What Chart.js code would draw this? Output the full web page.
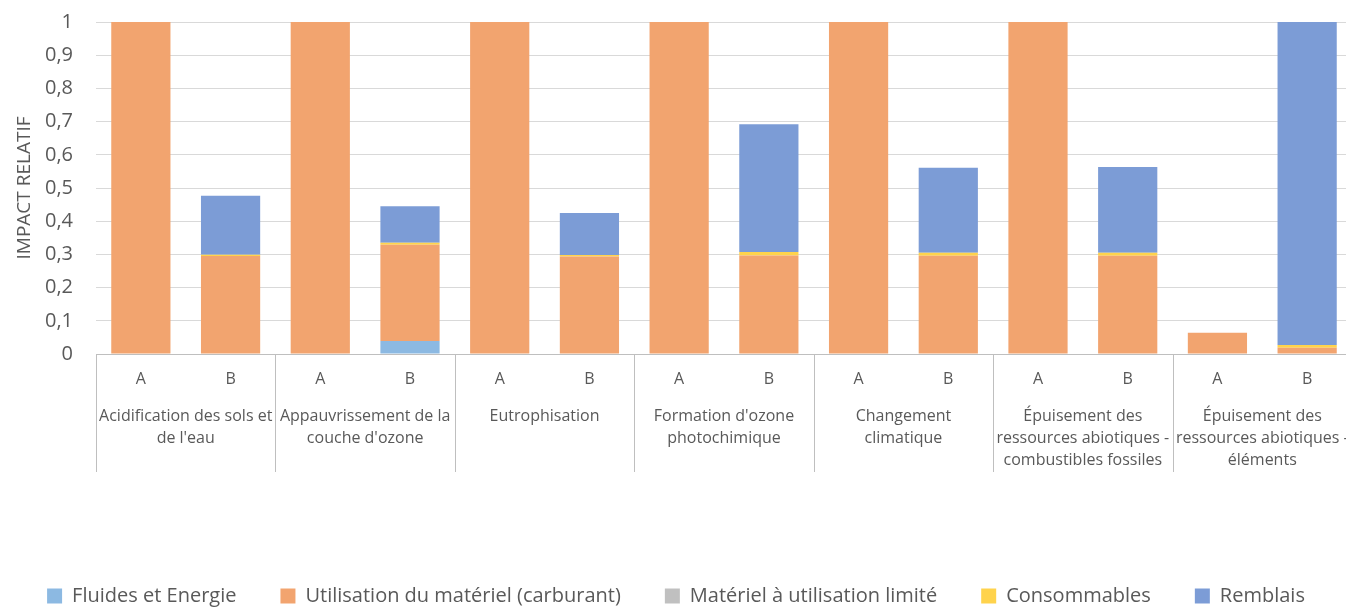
<!DOCTYPE html>
<html>
<head>
<meta charset="utf-8">
<script src="https://cdn.jsdelivr.net/npm/chart.js@4"></script>
<style>
  html, body { margin: 0; padding: 0; background: #fff; overflow: hidden; }
  #wrap { width: 1352px; height: 607px; }
</style>
</head>
<body>
<div id="wrap"><canvas id="myChart"></canvas></div>
<script>
// categories (multi-line labels as drawn under the bars)
var groups = [
  ["Acidification des sols et", "de l'eau"],
  ["Appauvrissement de la", "couche d'ozone"],
  ["Eutrophisation"],
  ["Formation d'ozone", "photochimique"],
  ["Changement", "climatique"],
  ["Épuisement des", "ressources abiotiques -", "combustibles fossiles"],
  ["Épuisement des", "ressources abiotiques -", "éléments"]
];
var scenarios = ["A", "B"];
var yTicks = [0, 0.1, 0.2, 0.3, 0.4, 0.5, 0.6, 0.7, 0.8, 0.9, 1];

// series, one value per bar (A, B for each group)
var fluides      = [0, 0,     0, 0.039, 0, 0,     0, 0,     0, 0,     0, 0,     0,     0];
var utilisation  = [1, 0.295, 1, 0.290, 1, 0.294, 1, 0.297, 1, 0.296, 1, 0.296, 0.064, 0.019];
var materiel     = [0, 0,     0, 0,     0, 0,     0, 0,     0, 0,     0, 0,     0,     0];
var consommables = [0, 0.004, 0, 0.006, 0, 0.004, 0, 0.010, 0, 0.009, 0, 0.009, 0,     0.008];
var remblais     = [0, 0.178, 0, 0.110, 0, 0.127, 0, 0.385, 0, 0.256, 0, 0.258, 0,     0.973];

var barLabels = [];
for (var i = 0; i < groups.length; i++) {
  for (var j = 0; j < scenarios.length; j++) barLabels.push(scenarios[j]);
}

var txt = '#595959';
var font = "'Open Sans', 'Liberation Sans', sans-serif";

// vertical separators between groups, under the axis
var groupLines = {
  id: 'groupLines',
  afterDraw: function(chart) {
    var x = chart.scales.x;
    var ctx = chart.ctx;
    var top = chart.chartArea.bottom;
    var bottom = top + 118;
    ctx.save();
    ctx.strokeStyle = '#bfbfbf';
    ctx.lineWidth = 1;
    var step = x.getPixelForValue(1) - x.getPixelForValue(0);
    for (var g = 0; g <= groups.length; g++) {
      var px = Math.round(x.getPixelForValue(g * 2) - step / 2) + 0.5;
      if (px > chart.chartArea.right) continue;
      ctx.beginPath();
      ctx.moveTo(px, top);
      ctx.lineTo(px, bottom);
      ctx.stroke();
    }
    ctx.beginPath();
    ctx.moveTo(chart.chartArea.left, top + 0.5);
    ctx.lineTo(chart.chartArea.right, top + 0.5);
    ctx.stroke();
    ctx.restore();
  }
};

function ds(label, data, color) {
  return {
    label: label,
    data: data,
    backgroundColor: color,
    borderWidth: 0,
    categoryPercentage: 1,
    barPercentage: 0.66,
    xAxisID: 'x'
  };
}

function noSidePad(s) { s.paddingLeft = 0; s.paddingRight = 0; }

var ctx = document.getElementById('myChart').getContext('2d');
var myChart = new Chart(ctx, {
  type: 'bar',
  data: {
    labels: barLabels,
    datasets: [
      ds('Fluides et Energie', fluides, '#8cb9e2'),
      ds('Utilisation du matériel (carburant)', utilisation, '#f2a46f'),
      ds('Matériel à utilisation limité', materiel, '#c0c0c0'),
      ds('Consommables', consommables, '#ffd34c'),
      ds('Remblais', remblais, '#7c9cd6')
    ]
  },
  plugins: [groupLines],
  options: {
    responsive: true,
    maintainAspectRatio: false,
    animation: false,
    layout: { padding: { top: 0, left: 0, right: 0, bottom: -9 } },
    plugins: {
      legend: {
        position: 'bottom',
        labels: {
          color: txt,
          font: { family: font, size: 20 },
          boxWidth: 15,
          boxHeight: 15,
          padding: 44
        }
      },
      tooltip: { enabled: false }
    },
    scales: {
      x: {
        stacked: true,
        grid: { display: false },
        border: { display: false },
        ticks: { color: txt, font: { family: font, size: 16 }, padding: 8 },
        afterFit: function(s) { s.height = 42; noSidePad(s); }
      },
      x2: {
        type: 'category',
        labels: groups,
        position: 'bottom',
        offset: true,
        grid: { display: false },
        border: { display: false },
        ticks: { color: txt, font: { family: font, size: 16, lineHeight: 1.38 }, padding: 1, maxRotation: 0, autoSkip: false },
        afterFit: function(s) { s.height = 146; noSidePad(s); }
      },
      y: {
        stacked: true,
        min: 0,
        max: 1,
        afterBuildTicks: function(s) { s.ticks = yTicks.map(function(v) { return { value: v }; }); },
        grid: { color: '#d9d9d9', drawTicks: false },
        border: { display: false },
        ticks: {
          color: txt,
          autoSkip: false,
          font: { family: font, size: 20 },
          padding: 23,
          callback: function(v) { return String(Math.round(v * 10) / 10).replace('.', ','); }
        },
        title: { display: true, text: 'IMPACT RELATIF', color: txt, font: { family: font, size: 19 }, padding: { top: 13, bottom: 0 } },
        afterFit: function(s) { s.width = 96; s.paddingTop = 22; s.paddingBottom = 0; }
      }
    }
  }
});
</script>
</body>
</html>
